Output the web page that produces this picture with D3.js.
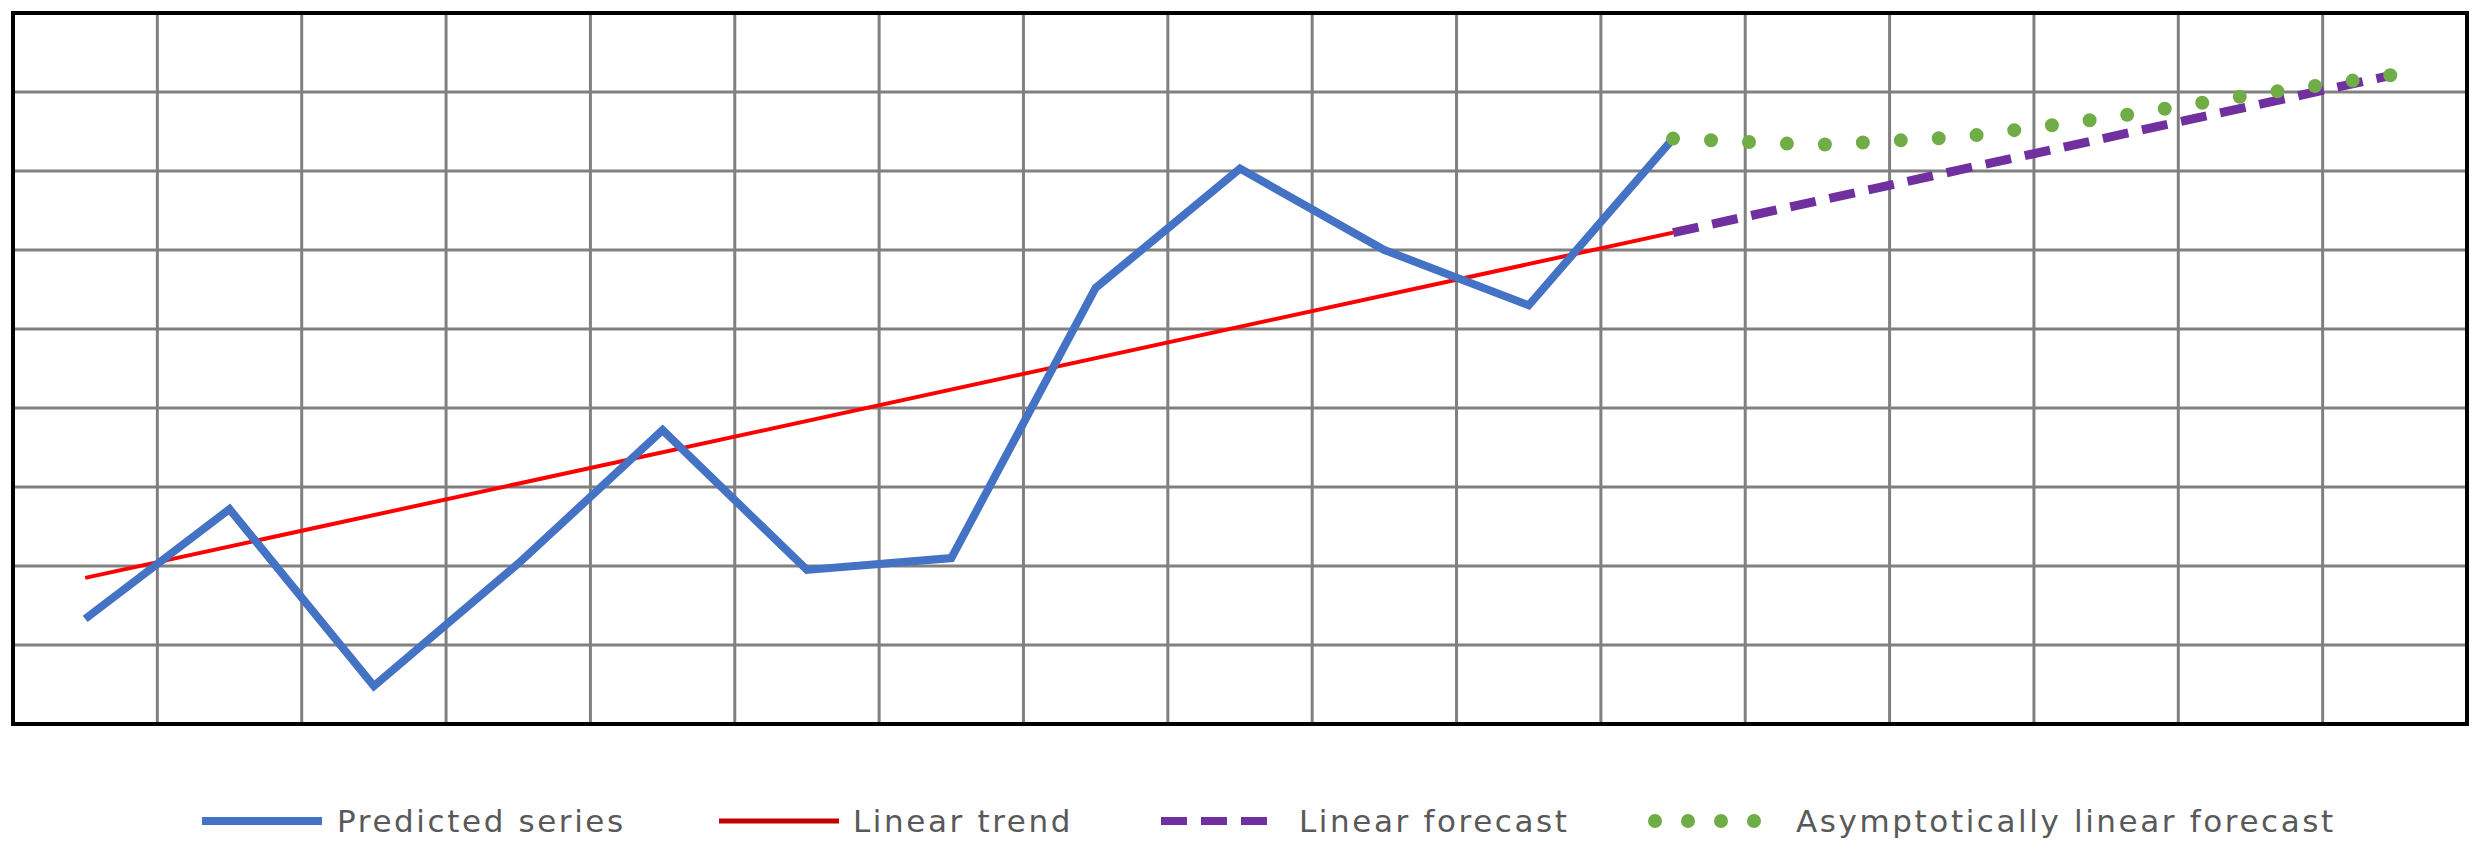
<!DOCTYPE html>
<html><head><meta charset="utf-8">
<script src="https://cdn.jsdelivr.net/npm/d3@7"></script>
<style>body{margin:0;background:#fff}</style></head>
<body><svg id="c" width="2477" height="850"></svg>
<script>
const columns = d3.range(17);
const predicted = [1.33, 2.72, 0.48, 2.03, 3.72, 1.95, 2.10, 5.52, 7.03, 6.00, 5.30, 7.41];
const trend = [[0, 1.85], [11, 6.22]];
const linearForecast = [6.22, 6.62, 7.02, 7.42, 7.82, 8.22];
const asymForecast = [7.41, 7.33, 7.43, 7.67, 7.96, 8.22];
const forecastStart = 11;
const yTicks = d3.range(0, 10);
const legendLabels = ["Predicted series", "Linear trend", "Linear forecast", "Asymptotically linear forecast"];

const svg = d3.select("#c");
const L = 13, R = 2467, T = 13, B = 724;
const x = d3.scaleBand().domain(columns).range([L, R]).padding(0);
const xc = i => x(i) + x.bandwidth() / 2;
const y = d3.scaleLinear().domain([0, 9]).range([B, T]);

const g = svg.append("g");
g.selectAll(".vg").data(columns.slice(1)).join("line")
  .attr("x1", d => x(d)).attr("x2", d => x(d)).attr("y1", T).attr("y2", B)
  .attr("stroke", "#808080").attr("stroke-width", 3);
g.selectAll(".hg").data(yTicks.slice(1, 9)).join("line")
  .attr("x1", L).attr("x2", R).attr("y1", d => y(d)).attr("y2", d => y(d))
  .attr("stroke", "#808080").attr("stroke-width", 3);
g.append("rect").attr("x", L).attr("y", T).attr("width", R - L).attr("height", B - T)
  .attr("fill", "none").attr("stroke", "#000").attr("stroke-width", 4);

const line = d3.line().x(d => xc(d[0])).y(d => y(d[1]));
g.append("path").attr("d", line(trend)).attr("fill", "none").attr("stroke", "#ff0000").attr("stroke-width", 4);
g.append("path").attr("d", line(predicted.map((v, i) => [i, v]))).attr("fill", "none")
  .attr("stroke", "#4472c4").attr("stroke-width", 8).attr("stroke-linejoin", "miter");
g.append("path").attr("d", line(linearForecast.map((v, i) => [forecastStart + i, v]))).attr("fill", "none")
  .attr("stroke", "#7030a0").attr("stroke-width", 9).attr("stroke-dasharray", "26,14");
g.append("path").attr("d", line(asymForecast.map((v, i) => [forecastStart + i, v]))).attr("fill", "none")
  .attr("stroke", "#70ad47").attr("stroke-width", 14).attr("stroke-linecap", "round").attr("stroke-dasharray", "0,38");

const leg = [
  {x1: 202, tx: 337, stroke: "#4472c4", w: 8, dash: null, cap: "butt"},
  {x1: 719, tx: 853, stroke: "#c00000", w: 5, dash: null, cap: "butt"},
  {x1: 1161, tx: 1299, stroke: "#7030a0", w: 8, dash: "26,14", cap: "butt"},
  {x1: 1655, tx: 1796, stroke: "#70ad47", w: 14, dash: "0,33", cap: "round"}
];
leg.forEach((d, i) => {
  svg.append("line").attr("x1", d.x1).attr("x2", d.x1 + 120).attr("y1", 821).attr("y2", 821)
    .attr("stroke", d.stroke).attr("stroke-width", d.w).attr("stroke-linecap", d.cap)
    .attr("stroke-dasharray", d.dash);
  svg.append("text").attr("x", d.tx).attr("y", 832).text(legendLabels[i])
    .attr("font-family", "DejaVu Sans").attr("font-size", 31).attr("letter-spacing", 2.6).attr("fill", "#595959");
});
</script></body></html>
